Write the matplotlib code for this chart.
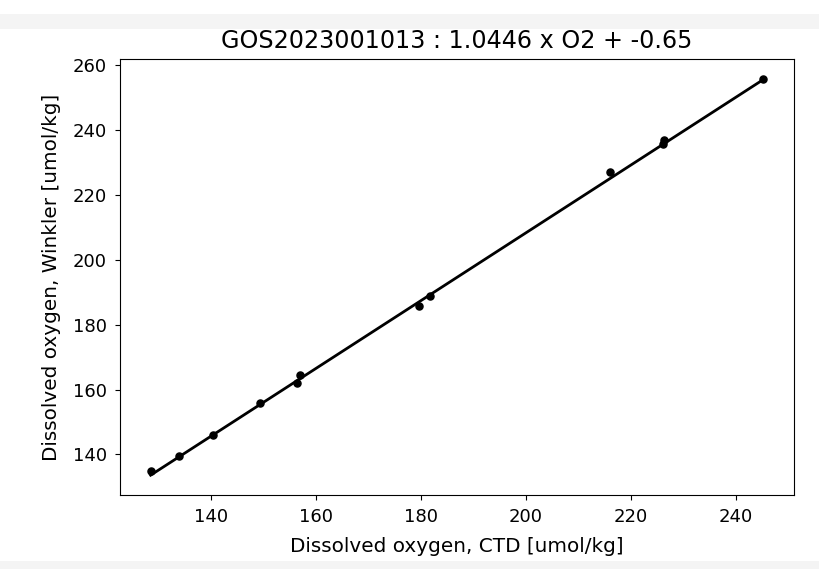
import matplotlib
matplotlib.use("Agg")
import matplotlib.pyplot as plt
import numpy as np
from matplotlib.patches import Rectangle

# Data
ctd_o2 = [128.5, 134.0, 140.3, 149.4, 156.4, 157.0, 179.6, 181.8, 216.1, 226.2, 226.3, 245.3]
winkler_o2 = [134.8, 139.5, 146.1, 155.9, 161.9, 164.4, 185.8, 188.9, 227.0, 235.8, 236.8, 255.8]
slope = 1.0446
intercept = -0.65
cruise = "GOS2023001013"

fig = plt.figure(figsize=(8.19, 5.69), dpi=100)
# faint grey page bands seen in the reference
fig.add_artist(Rectangle((0, 1 - 29 / 569), 1, 15 / 569, transform=fig.transFigure,
                         facecolor="#f4f4f4", edgecolor="none", zorder=-10))
fig.add_artist(Rectangle((0, 0), 1, 8 / 569, transform=fig.transFigure,
                         facecolor="#f4f4f4", edgecolor="none", zorder=-10))

ax = fig.add_axes([120 / 819, 1 - 495 / 569, (794 - 120) / 819, (495 - 59) / 569])

ax.scatter(ctd_o2, winkler_o2, s=26, color="black", zorder=2)
xs = np.array([min(ctd_o2), max(ctd_o2)])
ax.plot(xs, slope * xs + intercept, color="black", linewidth=2, zorder=3)

ax.set_title(f"{cruise} : {slope} x O2 + {intercept}", fontsize=17.2, pad=8)
ax.set_xlabel("Dissolved oxygen, CTD [umol/kg]", fontsize=14.4, labelpad=8)
ax.set_ylabel("Dissolved oxygen, Winkler [umol/kg]", fontsize=14.4, labelpad=8)
ax.tick_params(labelsize=13, pad=6)
ax.set_xticks([140, 160, 180, 200, 220, 240])
ax.set_yticks([140, 160, 180, 200, 220, 240, 260])

fig.savefig("out.png", dpi=100)
